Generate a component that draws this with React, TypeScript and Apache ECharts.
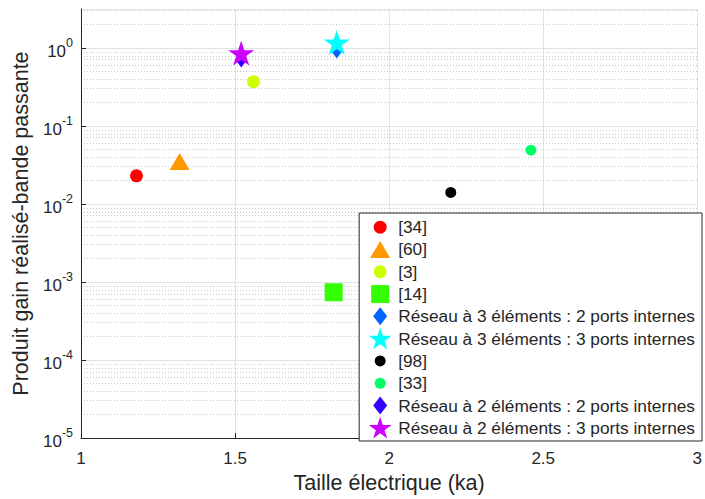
import React, { useEffect, useRef } from "react";
import * as echarts from "echarts";

const seriesNames = [
  "[34]",
  "[60]",
  "[3]",
  "[14]",
  "Réseau à 3 éléments : 2 ports internes",
  "Réseau à 3 éléments : 3 ports internes",
  "[98]",
  "[33]",
  "Réseau à 2 éléments : 2 ports internes",
  "Réseau à 2 éléments : 3 ports internes",
];
const xValues = [1.18, 1.32, 1.56, 1.82, 1.83, 1.83, 2.2, 2.46, 1.52, 1.52];
const yValues = [0.023, 0.035, 0.37, 0.00074, 0.93, 1.18, 0.0141, 0.049, 0.71, 0.86];
const colors = [
  "#ff0000",
  "#ff9900",
  "#ccff00",
  "#33ff00",
  "#0066ff",
  "#00ffff",
  "#000000",
  "#00ff66",
  "#3300ff",
  "#cc00ff",
];
const shapes = ["circle", "triangle", "circle", "square", "diamond", "star", "dot", "dot", "diamond", "star"];

const xTicks = [1, 1.5, 2, 2.5, 3];
const yDecades = [-5, -4, -3, -2, -1, 0];
const minorMultipliers = [2, 3, 4, 5, 6, 7, 8, 9];

const FONT = "'Liberation Sans', Arial, Helvetica, sans-serif";
const TXT = "#262626";

// icon box (px) used for both plot markers and legend icons
const BW = 26;
const BH = 22.3;

function starPts(cx: number, cy: number, R: number) {
  const r = R * 0.382;
  const pts: string[] = [];
  for (let k = 0; k < 10; k++) {
    const a = -Math.PI / 2 + (k * Math.PI) / 5;
    const rad = k % 2 === 0 ? R : r;
    pts.push(`${(cx + rad * Math.cos(a)).toFixed(2)},${(cy + rad * Math.sin(a)).toFixed(2)}`);
  }
  return "M" + pts.join(" L") + " Z";
}
function circlePath(cx: number, cy: number, r: number) {
  return `M${cx - r},${cy} A${r},${r} 0 1,0 ${cx + r},${cy} A${r},${r} 0 1,0 ${cx - r},${cy} Z`;
}
function shapePath(kind: string, pad: boolean) {
  const cx = BW / 2;
  const cy = BH / 2;
  let d = "";
  if (kind === "circle") d = circlePath(cx, cy, 6.5);
  else if (kind === "dot") d = circlePath(cx, cy, 5.5);
  else if (kind === "triangle") d = `M${cx},${cy - 8.5} L${cx + 10},${cy + 8.5} L${cx - 10},${cy + 8.5} Z`;
  else if (kind === "square") d = `M${cx - 9},${cy - 9} L${cx + 9},${cy - 9} L${cx + 9},${cy + 9} L${cx - 9},${cy + 9} Z`;
  else if (kind === "diamond") d = `M${cx},${cy - 9} L${cx + 7},${cy} L${cx},${cy + 9} L${cx - 7},${cy} Z`;
  else if (kind === "star") d = starPts(cx, cy + 0.9, 12);
  return "path://" + (pad ? `M0,0 M${BW},${BH} ` : "") + d;
}
const plotSizes: Record<string, number[]> = {
  circle: [13, 13],
  dot: [11, 11],
  triangle: [20, 17],
  square: [18, 18],
  diamond: [12, 16],
  star: [26, 25],
};

export default function App() {
  const ref = useRef<HTMLDivElement>(null);
  useEffect(() => {
    const chart = echarts.init(ref.current!, undefined, { renderer: "svg" });
    const minorLines: { yAxis: number }[] = [];
    yDecades.forEach((d) => {
      minorMultipliers.forEach((m) => {
        const v = Math.log10(m) + d;
        if (v <= 0.5) minorLines.push({ yAxis: v });
      });
    });
    const series: any[] = [
      {
        name: "__minor",
        type: "line",
        data: [],
        silent: true,
        z: 0,
        markLine: {
          silent: true,
          z: 0,
          symbol: ["none", "none"],
          label: { show: false },
          lineStyle: { type: [1, 2], color: "#c8c8c8", width: 1 },
          data: minorLines,
        },
      },
    ];
    seriesNames.forEach((name, i) => {
      series.push({
        name,
        type: "scatter",
        symbol: shapePath(shapes[i], false),
        symbolSize: plotSizes[shapes[i]],
        itemStyle: { color: colors[i], opacity: 1 },
        data: [[xValues[i], Math.log10(yValues[i])]],
        z: 3 + i,
      });
    });
    chart.setOption({
      animation: false,
      textStyle: { fontFamily: FONT },
      grid: { left: 81, right: 5, top: 9, bottom: 58, containLabel: false },
      xAxis: {
        type: "value",
        min: xTicks[0],
        max: xTicks[xTicks.length - 1],
        interval: 0.5,
        name: "Taille électrique (ka)",
        nameLocation: "middle",
        nameGap: 33,
        nameTextStyle: { fontSize: 21.5, color: TXT, fontFamily: FONT },
        axisLine: { onZero: false, lineStyle: { color: TXT, width: 1 } },
        axisTick: { inside: true, length: 5, lineStyle: { color: TXT } },
        axisLabel: { fontSize: 17, color: TXT, margin: 12, fontFamily: FONT },
        splitLine: { show: true, lineStyle: { color: "#e3e3e3", width: 1 } },
      },
      yAxis: {
        type: "value",
        min: -5,
        max: 0.5,
        interval: 1,
        name: "Produit gain réalisé-bande passante",
        nameLocation: "middle",
        nameGap: 48,
        nameTextStyle: { fontSize: 21.5, color: TXT, fontFamily: FONT },
        axisLine: { show: true, onZero: false, lineStyle: { color: TXT, width: 1 } },
        axisTick: { inside: true, length: 5, lineStyle: { color: TXT } },
        axisLabel: {
          color: TXT,
          margin: 8,
          fontFamily: FONT,
          showMaxLabel: false,
          formatter: (v: number) => (Number.isInteger(v) ? `{b|10}{s|${v}}` : ""),
          rich: {
            b: { fontSize: 17, color: TXT, fontFamily: FONT, padding: [6, 0, 0, 0] },
            s: {
              fontSize: 12.5,
              color: TXT,
              fontFamily: FONT,
              verticalAlign: "top",
              padding: [0, 0, 6, 0],
            },
          },
        },
        splitLine: { show: true, lineStyle: { color: "#e3e3e3", width: 1 } },
      },
      legend: {
        orient: "vertical",
        right: 3,
        top: 213,
        z: 20,
        data: seriesNames.map((n, i) => ({ name: n, icon: shapePath(shapes[i], true) })),
        itemWidth: BW,
        itemHeight: BH,
        itemGap: 0,
        symbolKeepAspect: true,
        itemStyle: { opacity: 1 },
        padding: [3, 7, 2, 8],
        itemTextGap: 11,
        backgroundColor: "#ffffff",
        borderColor: "#262626",
        borderWidth: 1,
        borderRadius: 0,
        textStyle: { fontSize: 17.3, color: TXT, fontFamily: FONT },
        selectedMode: false,
      },
      series,
    });
    return () => chart.dispose();
  }, []);
  return (
    <div
      ref={ref}
      style={{ position: "fixed", left: 0, top: 0, width: 705, height: 499, background: "#fff" }}
    />
  );
}
